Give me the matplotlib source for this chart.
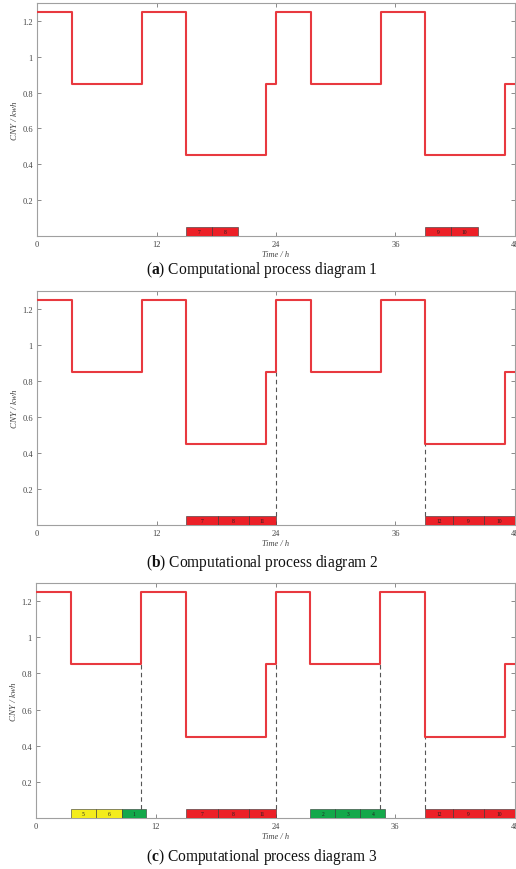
import matplotlib
matplotlib.use("Agg")
import matplotlib.pyplot as plt

# Time-of-use electricity price over two days (step changes in hours)
price_edges = [0, 3.5, 10.5, 15, 23, 24, 27.5, 34.5, 39, 47, 48]
price_values = [1.25, 0.85, 1.25, 0.45, 0.85, 1.25, 0.85, 1.25, 0.45, 0.85]

x_ticks = [0, 12, 24, 36, 48]
y_ticks = [0.2, 0.4, 0.6, 0.8, 1.0, 1.2]
y_tick_labels = ["0.2", "0.4", "0.6", "0.8", "1", "1.2"]

# Scheduled task blocks per diagram: (start, end, label, colour)
tasks_1 = [
    (15.0, 17.6, "7", "red"), (17.6, 20.2, "8", "red"),
    (39.0, 41.6, "9", "red"), (41.6, 44.3, "10", "red"),
]
tasks_2 = [
    (15.0, 18.2, "7", "red"), (18.2, 21.3, "8", "red"), (21.3, 24.0, "11", "red"),
    (39.0, 41.8, "12", "red"), (41.8, 44.9, "9", "red"), (44.9, 48.0, "10", "red"),
]
tasks_3 = [
    (3.5, 6.0, "5", "yellow"), (6.0, 8.6, "6", "yellow"), (8.6, 11.0, "1", "green"),
    (15.0, 18.2, "7", "red"), (18.2, 21.3, "8", "red"), (21.3, 24.0, "11", "red"),
    (27.5, 30.0, "2", "green"), (30.0, 32.5, "3", "green"), (32.5, 35.0, "4", "green"),
    (39.0, 41.8, "12", "red"), (41.8, 44.9, "9", "red"), (44.9, 48.0, "10", "red"),
]
# Dashed guides: (time, price level reached)
guides_1 = []
guides_2 = [(24, 0.85), (39, 0.45)]
guides_3 = [(10.5, 0.85), (24, 0.85), (34.5, 0.85), (39, 0.45)]

captions = ["a", "b", "c"]
caption_text = "Computational process diagram "

colours = {"red": "#ec2027", "yellow": "#f3ec1c", "green": "#13a84a"}
line_colour = "#e8393f"
spine_colour = "#a0a0a0"
bar_height = 0.05

plt.rcParams["mathtext.fontset"] = "custom"
plt.rcParams["mathtext.rm"] = "Liberation Serif"
plt.rcParams["mathtext.bf"] = "Liberation Serif:bold"

W, H = 516, 870
fig = plt.figure(figsize=(W / 100, H / 100), dpi=100)

# axes boxes in pixels: (left, top, right, bottom)
boxes = [(37, 4, 515, 237), (37, 292, 515, 526), (36, 584, 515, 819)]
caption_y = [270, 563, 857]
task_sets = [tasks_1, tasks_2, tasks_3]
guide_sets = [guides_1, guides_2, guides_3]

steps_x = price_edges
steps_y = price_values + [price_values[-1]]

for i, (l, t, r, b) in enumerate(boxes):
    ax = fig.add_axes([l / W, 1 - b / H, (r - l) / W, (b - t) / H])
    ax.step(steps_x, steps_y, where="post", color=line_colour, lw=1.5, zorder=3)
    for x0, x1, lab, c in task_sets[i]:
        ax.bar(x0, bar_height, width=x1 - x0, align="edge", bottom=0,
               color=colours[c], edgecolor="#333333", linewidth=0.4, zorder=4)
        ax.text((x0 + x1) / 2, bar_height / 2, lab, ha="center", va="center",
                fontsize=4, family="Liberation Serif", color="#222222", zorder=5)
    for gx, gy in guide_sets[i]:
        ax.plot([gx, gx], [bar_height, gy], ls=(0, (4, 3)), color="#555555",
                lw=0.8, zorder=2)
    ax.set_xlim(0, 48)
    ax.set_ylim(0, 1.3)
    ax.set_xticks(x_ticks)
    ax.set_yticks(y_ticks)
    ax.set_yticklabels(y_tick_labels)
    ax.tick_params(direction="in", length=3, width=0.6, color="#777777",
                   top=True, right=True, labelsize=6, pad=3,
                   labelcolor="#444444")
    for lab in ax.get_xticklabels() + ax.get_yticklabels():
        lab.set_family("Liberation Serif")
    for s in ax.spines.values():
        s.set_color(spine_colour)
        s.set_linewidth(0.8)
    ax.set_xlabel("Time / h", fontsize=6, style="italic", family="Liberation Serif",
                  color="#444444", labelpad=1)
    ax.set_ylabel("CNY / kwh", fontsize=6.5, style="italic", family="Liberation Serif",
                  color="#444444", labelpad=2)
    fig.text(262 / W, 1 - caption_y[i] / H,
             r"($\mathbf{" + captions[i] + r"}$) " + caption_text + str(i + 1),
             ha="center", va="center", fontsize=11.2, family="Liberation Serif",
             color="#111111")

fig.savefig("out.png", dpi=100)
